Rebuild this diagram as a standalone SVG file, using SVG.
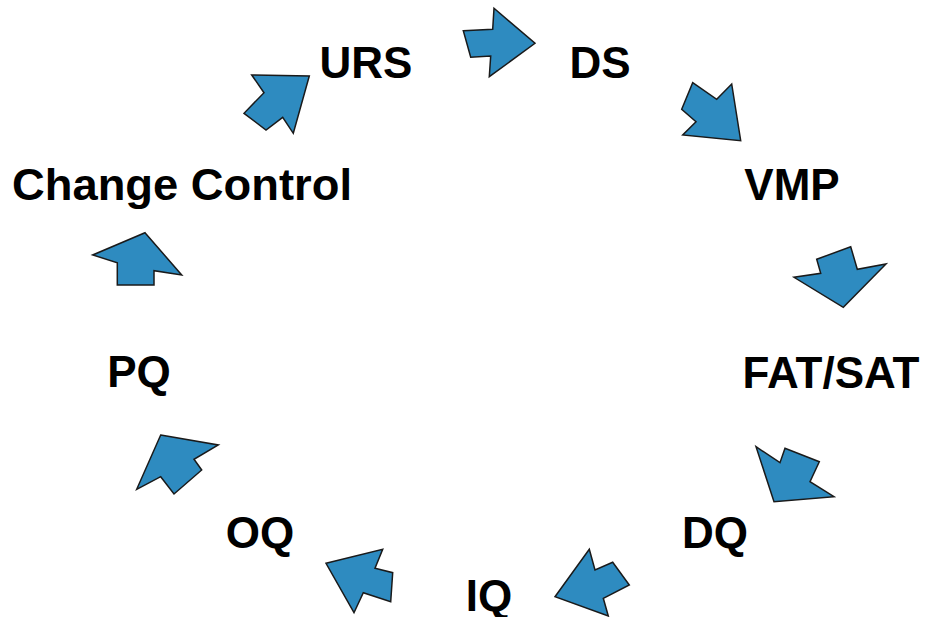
<svg xmlns="http://www.w3.org/2000/svg" width="930" height="617" viewBox="0 0 930 617">
<style>
.lbl{font-family:"Liberation Sans",Arial,sans-serif;font-weight:bold;font-size:44px;fill:#000;text-anchor:middle}
.arr{fill:#2e8bc0;stroke:#1a1a1a;stroke-width:1.5;stroke-linejoin:miter}
</style>
<rect width="930" height="617" fill="#fff"/>
<g id="connectors">
<polygon class="arr" points="463.3,30.7 492.7,29.3 494,8.3 535,43.3 489.3,76.7 490.7,56 470.7,57.3"/>
<polygon class="arr" points="692.7,82.7 716.7,99.3 731.7,84 740.7,140.7 682.7,135 696,121.7 681.7,109.3"/>
<polygon class="arr" points="816.7,259.3 850.7,246.7 857.3,269.3 886,264 843.3,307.3 794,277.3 820.7,273.3"/>
<polygon class="arr" points="756,446.7 780,462.7 785,448.3 819.3,461.7 810,481.7 834,496.7 774,501.7"/>
<polygon class="arr" points="589.3,549.3 595,570 612.7,562.3 629.3,585 603.3,598.3 608.3,616 555,596.7"/>
<polygon class="arr" points="326,563.3 382.7,549.3 375,568.3 392.7,572.7 390.7,601.7 363.3,592.7 354,612.7"/>
<polygon class="arr" points="160.7,435 218.3,445 194,459.3 201.7,470 174,494 160.7,476.7 136.7,489.3"/>
<polygon class="arr" points="145,232.7 181.7,275 154,270.7 154,285 117.3,285 117.3,262.7 92.7,255"/>
<polygon class="arr" points="251.7,75 309.3,76 293.3,133.3 282.7,117.3 266,130 244,113.3 264,92.7"/>
</g>
<g id="urs"><text class="lbl" x="366" y="78">URS</text></g>
<g id="ds"><text class="lbl" x="600" y="78">DS</text></g>
<g id="vmp"><text class="lbl" x="792" y="200">VMP</text></g>
<g id="change-control"><text class="lbl" x="182" y="200" textLength="340" lengthAdjust="spacingAndGlyphs">Change Control</text></g>
<g id="fat-sat"><text class="lbl" x="831" y="388">FAT/SAT</text></g>
<g id="pq"><text class="lbl" x="139" y="387">PQ</text></g>
<g id="oq"><text class="lbl" x="260" y="548">OQ</text></g>
<g id="dq"><text class="lbl" x="715" y="548">DQ</text></g>
<g id="iq"><text class="lbl" x="489" y="611">IQ</text></g>
</svg>
